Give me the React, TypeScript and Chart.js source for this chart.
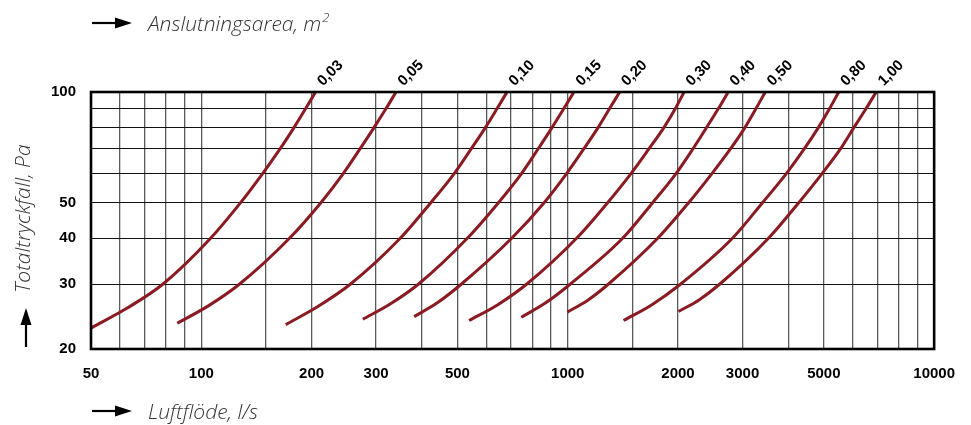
import React, { useEffect, useRef } from 'react';
import { Chart, registerables } from 'chart.js';

Chart.register(...registerables);

// ---- data ----
const areaLabels = ['0,03', '0,05', '0,10', '0,15', '0,20', '0,30', '0,40', '0,50', '0,80', '1,00'];

// first point of each curve (flow l/s, pressure Pa)
const startFlow = [50, 86, 170, 276, 381, 538, 747, 998, 1420, 2006];
const startPressure = [22.8, 23.5, 23.3, 24.1, 24.5, 23.9, 24.4, 25.2, 23.9, 25.3];

// one point on the lower arc of each curve (flow l/s, pressure Pa)
const lowFlow = [62.6, 104.5, 208, 328.5, 441.7, 644.5, 870.7, 1134.6, 1698, 2282.5];
const lowPressure = [25.8, 26.2, 26.1, 26.55, 26.75, 26.4, 26.7, 27.15, 26.4, 27.2];

// pressure levels (Pa) at which the flow of each curve was read
const pressureLevels = [30, 40, 50, 60, 70, 80, 90, 100];

const flow003 = [78.5, 106, 128, 147, 164, 179, 192.5, 205];
const flow005 = [127, 174, 212, 244, 271, 296, 319, 340];
const flow010 = [255, 349, 423, 490, 545, 596, 641, 683];
const flow015 = [391, 532, 647, 748, 830, 906, 975, 1040];
const flow020 = [512, 703, 862, 993, 1106, 1210, 1300, 1386];
const flow030 = [772, 1057, 1285, 1488, 1665, 1830, 1965, 2078];
const flow040 = [1015, 1412, 1705, 1975, 2195, 2392, 2575, 2741];
const flow050 = [1290, 1760, 2138, 2475, 2780, 3045, 3262, 3460];
const flow080 = [2030, 2815, 3400, 3950, 4420, 4830, 5180, 5491];
const flow100 = [2597, 3530, 4270, 4945, 5550, 6038, 6515, 6948];

const curveFlows = [flow003, flow005, flow010, flow015, flow020, flow030, flow040, flow050, flow080, flow100];

// axis grid / tick values
const xGridValues = [50, 60, 70, 80, 90, 100, 150, 200, 300, 400, 500, 600, 700, 800, 900, 1000, 1500, 2000, 3000, 4000, 5000, 6000, 7000, 8000, 9000, 10000];
const xLabelValues = [50, 100, 200, 300, 500, 1000, 2000, 3000, 5000, 10000];
const yGridValues = [20, 30, 40, 50, 60, 70, 80, 90, 100];
const yLabelValues = [20, 30, 40, 50, 100];

const xTitle = 'Luftflöde, l/s';
const yTitle = 'Totaltryckfall, Pa';
const topTitle = 'Anslutningsarea, m';
const topTitleSup = '2';

const CURVE_COLOR = '#8b1b22';
const TICK_FONT = { family: '"Liberation Sans", Arial, sans-serif', size: 15, weight: 'bold' as const };
const TITLE_FONT = 'italic 300 21px "Open Sans", "Liberation Sans", sans-serif';

function drawArrowRight(ctx: CanvasRenderingContext2D, x0: number, x1: number, y: number) {
  ctx.save();
  ctx.strokeStyle = '#000';
  ctx.fillStyle = '#000';
  ctx.lineWidth = 2.2;
  ctx.beginPath();
  ctx.moveTo(x0, y);
  ctx.lineTo(x1 - 12, y);
  ctx.stroke();
  ctx.beginPath();
  ctx.moveTo(x1 - 17, y - 5.5);
  ctx.lineTo(x1, y);
  ctx.lineTo(x1 - 17, y + 5.5);
  ctx.closePath();
  ctx.fill();
  ctx.restore();
}

function drawArrowUp(ctx: CanvasRenderingContext2D, x: number, y0: number, y1: number) {
  ctx.save();
  ctx.strokeStyle = '#000';
  ctx.fillStyle = '#000';
  ctx.lineWidth = 2.2;
  ctx.beginPath();
  ctx.moveTo(x, y0);
  ctx.lineTo(x, y1 + 12);
  ctx.stroke();
  ctx.beginPath();
  ctx.moveTo(x - 5.5, y1 + 17);
  ctx.lineTo(x, y1);
  ctx.lineTo(x + 5.5, y1 + 17);
  ctx.closePath();
  ctx.fill();
  ctx.restore();
}

const decorPlugin = {
  id: 'decor',
  afterDraw(chart: any) {
    const { ctx, chartArea, scales } = chart;
    const { left, right, top, bottom } = chartArea;
    ctx.save();
    // frame
    ctx.strokeStyle = '#000';
    ctx.lineWidth = 2.6;
    ctx.strokeRect(left, top, right - left, bottom - top);

    // area labels at curve ends
    ctx.fillStyle = '#000';
    ctx.font = 'bold 15px "Liberation Sans", Arial, sans-serif';
    ctx.textAlign = 'left';
    ctx.textBaseline = 'middle';
    curveFlows.forEach((arr, i) => {
      const px = scales.x.getPixelForValue(arr[arr.length - 1]);
      ctx.save();
      ctx.translate(px + 4.5, top - 8.5);
      ctx.rotate(-Math.PI / 4);
      ctx.fillText(areaLabels[i], 0, 0);
      ctx.restore();
    });

    // titles
    ctx.fillStyle = '#333';
    ctx.font = TITLE_FONT;
    ctx.textBaseline = 'alphabetic';
    ctx.textAlign = 'left';
    drawArrowRight(ctx, 92, 132, 23);
    ctx.fillText(topTitle, 148, 31);
    const w = ctx.measureText(topTitle).width;
    ctx.font = 'italic 300 13px "Open Sans", "Liberation Sans", sans-serif';
    ctx.fillText(topTitleSup, 148 + w + 1, 22);

    ctx.font = TITLE_FONT;
    drawArrowRight(ctx, 92, 132, 411);
    ctx.fillText(xTitle, 148, 419);

    drawArrowUp(ctx, 26, 347, 308);
    ctx.save();
    ctx.translate(30, 293);
    ctx.rotate(-Math.PI / 2);
    ctx.fillText(yTitle, 0, 0);
    ctx.restore();

    ctx.restore();
  },
};

export default function App() {
  const canvasRef = useRef<HTMLCanvasElement | null>(null);

  useEffect(() => {
    if (!canvasRef.current) return;
    const datasets = curveFlows.map((flows, i) => ({
      label: areaLabels[i],
      data: [
        { x: startFlow[i], y: startPressure[i] },
        { x: lowFlow[i], y: lowPressure[i] },
        ...flows.map((q, j) => ({ x: q, y: pressureLevels[j] })),
      ],
      borderColor: CURVE_COLOR,
      borderWidth: 3,
      pointRadius: 0,
      fill: false,
      cubicInterpolationMode: 'monotone' as const,
      borderCapStyle: 'butt' as const,
    }));

    const chart = new Chart(canvasRef.current, {
      type: 'line',
      data: { datasets },
      plugins: [decorPlugin],
      options: {
        responsive: false,
        animation: false,
        devicePixelRatio: 1,
        parsing: false,
        layout: { padding: { left: 0, top: 92, right: 29, bottom: 0 } },
        plugins: {
          legend: { display: false },
          tooltip: { enabled: false },
          title: { display: false },
        },
        scales: {
          x: {
            type: 'logarithmic',
            position: 'bottom',
            min: 50,
            max: 10000,
            afterBuildTicks: (s: any) => {
              s.ticks = xGridValues.map((v) => ({ value: v }));
            },
            afterFit: (s: any) => {
              s.height = 76;
            },
            ticks: {
              autoSkip: false,
              maxRotation: 0,
              minRotation: 0,
              padding: 16,
              color: '#000',
              font: TICK_FONT,
              callback: (v: any) => (xLabelValues.includes(Number(v)) ? String(v) : ''),
            },
            grid: { color: '#5a5a5a', lineWidth: 1.3, drawTicks: false },
            border: { display: false },
          },
          y: {
            type: 'logarithmic',
            position: 'left',
            min: 20,
            max: 100,
            afterBuildTicks: (s: any) => {
              s.ticks = yGridValues.map((v) => ({ value: v }));
            },
            afterFit: (s: any) => {
              s.width = 91;
            },
            ticks: {
              autoSkip: false,
              padding: 15,
              color: '#000',
              font: TICK_FONT,
              callback: (v: any) => (yLabelValues.includes(Number(v)) ? String(v) : ''),
            },
            grid: { color: '#111', lineWidth: 1, drawTicks: false },
            border: { display: false },
          },
        },
      } as any,
    });
    return () => chart.destroy();
  }, []);

  return (
    <div style={{ position: 'fixed', left: 0, top: 0, width: 971, height: 425, background: '#fff' }}>
      <canvas ref={canvasRef} width={971} height={425} style={{ width: 971, height: 425, display: 'block' }} />
    </div>
  );
}
